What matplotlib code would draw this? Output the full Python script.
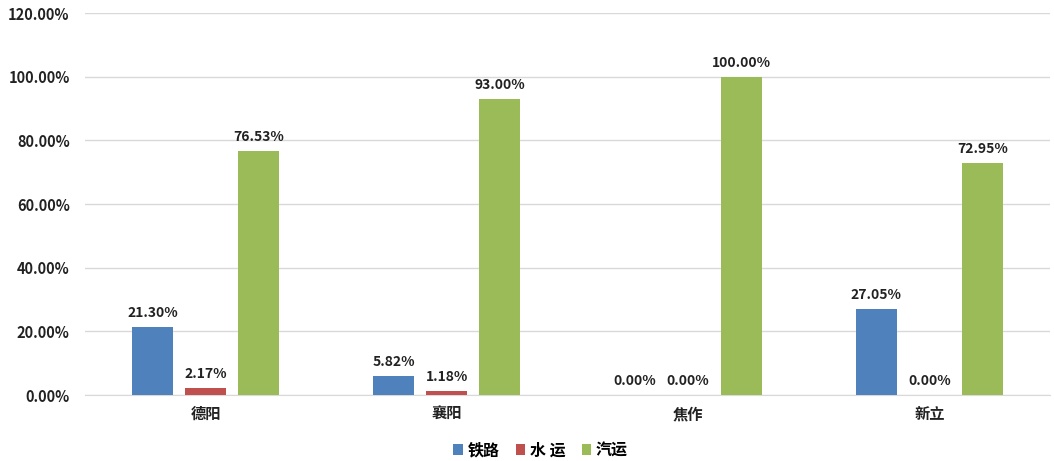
import matplotlib
matplotlib.use("Agg")
import matplotlib.pyplot as plt
import numpy as np
from matplotlib.ticker import FuncFormatter

plt.rcParams['font.family'] = ['Noto Sans CJK SC', 'DejaVu Sans']

categories = ['德阳', '襄阳', '焦作', '新立']
series_names = ['铁路', '水 运', '汽运']
rail = [21.30, 5.82, 0.00, 27.05]
water = [2.17, 1.18, 0.00, 0.00]
road = [76.53, 93.00, 100.00, 72.95]
colors = ['#4F81BD', '#C0504D', '#9BBB59']
yticks = [0, 20, 40, 60, 80, 100, 120]

fig = plt.figure(figsize=(10.54, 4.61), dpi=100)
ax = fig.add_axes([85/1054, 1-395/461, 965/1054, (395-13)/461])

x = np.arange(len(categories))
width = 0.17
offsets = [-0.22, 0.0, 0.22]
for vals, name, col, off in zip([rail, water, road], series_names, colors, offsets):
    bars = ax.bar(x + off, vals, width, color=col, label=name, zorder=3)
    for b, v in zip(bars, vals):
        ax.text(b.get_x() + b.get_width()/2, v + 2.2, f'{v:.2f}%',
                ha='center', va='bottom', fontsize=10, fontweight='bold', color='#222222')

ax.set_xlim(-0.5, len(categories) - 0.5)
ax.set_ylim(0, 120)
ax.set_yticks(yticks)
ax.yaxis.set_major_formatter(FuncFormatter(lambda v, p: f'{v:.2f}%'))
ax.grid(axis='y', color='#D9D9D9', linewidth=1, zorder=0)
for s in ['top', 'right', 'left']:
    ax.spines[s].set_visible(False)
ax.spines['bottom'].set_color('#D9D9D9')
ax.tick_params(axis='both', length=0, colors='#222222')
ax.tick_params(axis='x', pad=8, labelsize=11)
ax.tick_params(axis='y', pad=11, labelsize=10.5)
ax.set_xticks(x)
ax.set_xticklabels(categories, fontweight='bold')
for lbl in ax.get_xticklabels() + ax.get_yticklabels():
    lbl.set_fontweight('bold')

leg = fig.legend(loc='lower center', bbox_to_anchor=(0.513, -0.025), ncol=3, frameon=False,
                 handlelength=0.6, handleheight=0.6, handletextpad=0.3, columnspacing=1.0,
                 prop={'weight': 'bold', 'size': 11.5})

fig.savefig('out.png', dpi=100)
